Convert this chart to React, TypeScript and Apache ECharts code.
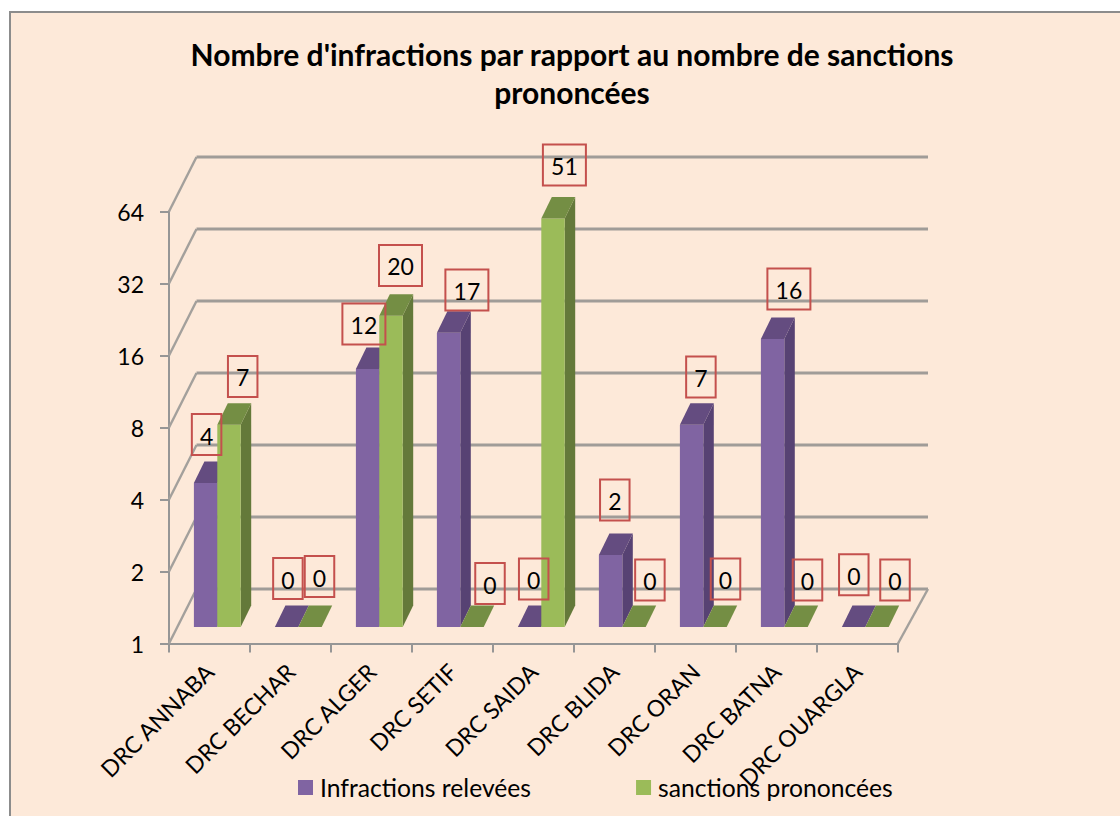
import React, { useEffect, useRef } from "react";
import * as echarts from "echarts";

const titleText = "Nombre d'infractions par rapport au nombre de sanctions\nprononcées";
const categories = ["DRC ANNABA", "DRC BECHAR", "DRC ALGER", "DRC SETIF", "DRC SAIDA", "DRC BLIDA", "DRC ORAN", "DRC BATNA", "DRC OUARGLA"];
const infractions = [4, 0, 12, 17, 0, 2, 7, 16, 0];
const sanctions = [7, 0, 20, 0, 51, 0, 0, 0, 0];
const gridValues = [1, 2, 4, 8, 16, 32, 64];

// hand-placed data label offsets from the top of each bar
const infractionLabelOffsets = [[1, -48.5], [1.3, -48.5], [-3.7, -44.8], [18.3, -42.7], [4.1, -48], [4.2, -55], [9.3, -47.9], [16.3, -50], [0.2, -52.3]];
const sanctionLabelOffsets = [[13.7, -48.4], [9.5, -50.5], [9.5, -50.4], [18, -43.5], [11.4, -53.6], [15.9, -47], [10.5, -48], [11.5, -47], [18, -47]];

const FONT = "Lato, Carlito, sans-serif";
const FLOOR_DX = 7.8, FLOOR_DY = -16.5;
const BAR_W = 23.4, DEPTH_X = 10.5, DEPTH_Y = -21.5;
const BACK_DX = 27.5, BACK_DY = -54.5;

function barSeries(name: string, values: number[], offsets: number[][], side: -1 | 1, front: string, top: string, wall: string) {
  return {
    name,
    type: "custom",
    coordinateSystem: "cartesian2d",
    itemStyle: { color: front },
    encode: { x: 0, y: 1 },
    data: values.map((v, i) => [i, v]),
    clip: false,
    renderItem: (_p: any, api: any) => {
      const i = api.value(0);
      const v = api.value(1);
      const [cx, yBase] = api.coord([i, 1]);
      const [, yTopRaw] = api.coord([i, Math.max(v, 1)]);
      const xl = cx + FLOOR_DX + (side < 0 ? -BAR_W : 0);
      const xr = xl + BAR_W;
      const yb = yBase + FLOOR_DY;
      const yt = yTopRaw + FLOOR_DY;
      const children: any[] = [];
      if (yb - yt > 0.5) {
        children.push({
          type: "polygon",
          shape: { points: [[xr, yt], [xr + DEPTH_X, yt + DEPTH_Y], [xr + DEPTH_X, yb + DEPTH_Y], [xr, yb]] },
          style: { fill: wall },
        });
        children.push({ type: "rect", shape: { x: xl, y: yt, width: BAR_W, height: yb - yt }, style: { fill: front } });
      }
      children.push({
        type: "polygon",
        shape: { points: [[xl, yt], [xr, yt], [xr + DEPTH_X, yt + DEPTH_Y], [xl + DEPTH_X, yt + DEPTH_Y]] },
        style: { fill: top },
      });
      const lx = xl + BAR_W / 2 + offsets[i][0];
      const ly = yt + offsets[i][1];
      const text = String(v);
      const bw = text.length > 1 ? 43 : 29.5;
      children.push({
        type: "rect",
        z2: 50,
        shape: { x: lx - bw / 2, y: ly - 20.5, width: bw, height: 41 },
        style: { fill: "rgba(0,0,0,0)", stroke: "#C4504D", lineWidth: 2 },
      });
      children.push({
        type: "text",
        z2: 51,
        style: { text, x: lx, y: ly + 1, textAlign: "center", textVerticalAlign: "middle", fill: "#000", font: `23px ${FONT}` },
      });
      return { type: "group", children };
    },
  };
}

const wallSeries = {
  type: "custom",
  name: "walls",
  coordinateSystem: "cartesian2d",
  z: 1,
  silent: true,
  clip: false,
  encode: { x: 0, y: 1 },
  data: gridValues.map((v) => [0, v]),
  renderItem: (p: any, api: any) => {
    const v = api.value(1);
    const [, y] = api.coord([0, v]);
    const { x, width } = p.coordSys;
    const children: any[] = [
      {
        type: "polyline",
        shape: { points: [[x, y], [x + BACK_DX, y + BACK_DY]] },
        style: { fill: "none", stroke: "#A3A09C", lineWidth: 2.4 },
      },
      {
        type: "polyline",
        shape: { points: [[x + BACK_DX, y + BACK_DY], [x + width + 30, y + BACK_DY]] },
        style: { fill: "none", stroke: "#A09C98", lineWidth: 3 },
      },
    ];
    if (v === 1) {
      children.push({
        type: "polyline",
        shape: { points: [[x + width, y], [x + width + 30, y + BACK_DY]] },
        style: { fill: "none", stroke: "#A3A09C", lineWidth: 2.4 },
      });
    }
    return { type: "group", children };
  },
};

export default function App() {
  const ref = useRef<HTMLDivElement>(null);
  useEffect(() => {
    const chart = echarts.init(ref.current!, undefined, { renderer: "svg" });
    chart.setOption({
      animation: false,
      backgroundColor: "#FFFFFF",
      color: ["#8064A2", "#9BBB59"],
      graphic: [
        {
          type: "rect",
          z: -10,
          silent: true,
          shape: { x: 10, y: 12, width: 1125, height: 820 },
          style: { fill: "#FDE9D9", stroke: "#8C8C8C", lineWidth: 2 },
        },
      ],
      title: {
        text: titleText,
        left: 567,
        top: 30,
        textAlign: "center",
        textStyle: { fontFamily: FONT, fontWeight: "bold", fontSize: 30, lineHeight: 38, color: "#000" },
      },
      legend: {
        left: 293,
        top: 770,
        icon: "rect",
        itemWidth: 15,
        itemHeight: 15,
        itemGap: 105,
        data: ["Infractions relevées", "sanctions prononcées"],
        textStyle: { fontFamily: FONT, fontSize: 24.7, color: "#000", padding: [0, 0, 0, 2] },
      },
      grid: { left: 169, right: 222, top: 211.5, bottom: 172.5 },
      xAxis: {
        type: "category",
        data: categories,
        axisLine: { lineStyle: { color: "#969696", width: 2 } },
        axisTick: { show: true, length: 9, alignWithLabel: false, lineStyle: { color: "#969696", width: 2 } },
        axisLabel: { interval: 0, rotate: 45, margin: 24, hideOverlap: false, fontFamily: FONT, fontSize: 23, color: "#000" },
      },
      yAxis: {
        type: "log",
        logBase: 2,
        min: 1,
        max: 64,
        splitNumber: 6,
        axisLine: { show: true, lineStyle: { color: "#969696", width: 2 } },
        axisTick: { show: true, length: 9, lineStyle: { color: "#969696", width: 2 } },
        minorTick: { show: false },
        splitLine: { show: false },
        axisLabel: { margin: 25, fontFamily: FONT, fontSize: 23, color: "#000" },
      },
      series: [
        wallSeries,
        barSeries("Infractions relevées", infractions, infractionLabelOffsets, -1, "#8064A2", "#644C80", "#574273"),
        barSeries("sanctions prononcées", sanctions, sanctionLabelOffsets, 1, "#9BBB59", "#748E44", "#64793A"),
      ],
    });
    return () => chart.dispose();
  }, []);
  return <div ref={ref} style={{ position: "absolute", left: 0, top: 0, width: 1120, height: 816 }} />;
}
